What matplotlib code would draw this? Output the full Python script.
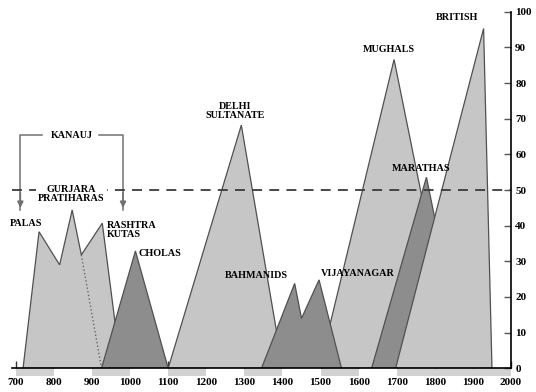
import numpy as np
import matplotlib.pyplot as plt
from matplotlib.patches import Rectangle

# outlines: (year, strength)
early_x = [719, 761, 815, 848, 872, 927, 976]
early_y = [0, 38.3, 29, 44.4, 31.8, 40.7, 0]
divider_x = [872, 925]
divider_y = [31.8, 0]
cholas_x = [925, 1014, 1100]
cholas_y = [0, 32.9, 0]
delhi_x = [1100, 1292, 1401]
delhi_y = [0, 68.2, 0]
deccan_x = [1345, 1432, 1450, 1496, 1555]
deccan_y = [0, 23.8, 14, 24.8, 0]
mughals_x = [1497, 1693, 1857]
mughals_y = [0, 86.6, 0]
marathas_x = [1634, 1778, 1880]
marathas_y = [0, 53.6, 0]
british_x = [1697, 1928, 1950]
british_y = [0, 95.3, 0]

labels = ['PALAS', 'GURJARA\nPRATIHARAS', 'RASHTRA\nKUTAS', 'CHOLAS',
          'DELHI\nSULTANATE', 'BAHMANIDS', 'VIJAYANAGAR', 'MUGHALS',
          'MARATHAS', 'BRITISH']
label_x = [728, 846, 939, 1023, 1275, 1332, 1502, 1680, 1765, 1857]
label_y = [40.7, 48.9, 38.8, 32.2, 72.1, 25.9, 26.6, 89.3, 56.1, 98.4]
label_ha = ['center', 'center', 'left', 'left', 'center', 'center', 'left',
            'center', 'center', 'center']

x_ticks = list(range(700, 2001, 100))
y_ticks = list(range(0, 101, 10))
band_starts = [700, 900, 1100, 1300, 1500, 1700, 1800, 1900]

light = '#c6c6c6'
dark = '#8d8d8d'
edge = '#505050'
serif = 'Liberation Serif'

fig = plt.figure(figsize=(5.36, 3.92), dpi=100)
ax = fig.add_axes([0.0224, 0.0605, 0.931, 0.9095])

ax.fill(early_x, early_y, facecolor=light, edgecolor=edge, lw=0.9, zorder=2)
ax.plot(divider_x, divider_y, color='#666666', lw=1, ls=':', zorder=2)
ax.fill(delhi_x, delhi_y, facecolor=light, edgecolor=edge, lw=0.9, zorder=2)
ax.fill(cholas_x, cholas_y, facecolor=dark, edgecolor=edge, lw=0.9, zorder=3)
ax.fill(mughals_x, mughals_y, facecolor=light, edgecolor=edge, lw=0.9, zorder=2)
ax.fill(deccan_x, deccan_y, facecolor=dark, edgecolor=edge, lw=0.9, zorder=3)
ax.fill(marathas_x, marathas_y, facecolor=dark, edgecolor=edge, lw=0.9, zorder=3)
ax.fill(british_x, british_y, facecolor=light, edgecolor=edge, lw=0.9, zorder=4)

# 50 per cent line
ax.axhline(50, color='#3a3a3a', lw=1.3, ls=(0, (5.5, 4)), zorder=6)

# Kanauj bracket with arrows
kc = '#707070'
ax.plot([712, 712, 770], [44.4, 65.4, 65.4], color=kc, lw=1.1, zorder=5)
ax.plot([918, 981.5, 981.5], [65.4, 65.4, 44.4], color=kc, lw=1.1, zorder=5)
for xx in [712, 981.5]:
    ax.annotate('', xy=(xx, 44.2), xytext=(xx, 50),
                arrowprops=dict(arrowstyle='-|>', color=kc, lw=1.1,
                                mutation_scale=9), zorder=5)
ax.text(846, 65.4, 'KANAUJ', ha='center', va='center', fontsize=7.3,
        fontweight='bold', family=serif, zorder=7)

for t, lx, ly, ha in zip(labels, label_x, label_y, label_ha):
    txt = ax.text(lx, ly, t, ha=ha, va='center', fontsize=7.3,
                  fontweight='bold', family=serif, linespacing=1.05, zorder=7)
    if t.startswith('GURJARA'):
        txt.set_bbox(dict(facecolor='white', edgecolor='none', pad=1.5))

# shaded centuries under the axis
for b in band_starts:
    ax.add_patch(Rectangle((b, -2.2), 100, 2.2, facecolor='#d2d2d2',
                           edgecolor='none', clip_on=False, zorder=1))

ax.set_xlim(690, 2000)
ax.set_ylim(0, 100)
for s in ['left', 'top']:
    ax.spines[s].set_visible(False)
ax.spines['bottom'].set_linewidth(1.2)
ax.spines['right'].set_linewidth(1.2)
ax.spines['bottom'].set_zorder(8)
ax.spines['right'].set_zorder(8)

ax.set_xticks(x_ticks)
ax.set_yticks(y_ticks)
ax.yaxis.tick_right()
ax.tick_params(axis='x', direction='in', length=5, width=1, color='#333333',
               pad=7, labelsize=8)
ax.tick_params(axis='y', direction='in', length=5, width=1, color='#555555',
               pad=3, labelsize=8)
for lab in ax.get_xticklabels() + ax.get_yticklabels():
    lab.set_family(serif)
    lab.set_fontweight('bold')

fig.savefig('out.png', dpi=100)
